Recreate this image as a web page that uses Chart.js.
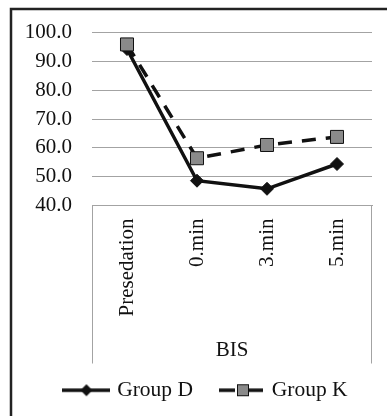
<!DOCTYPE html>
<html>
<head>
<meta charset="utf-8">
<script src="https://cdn.jsdelivr.net/npm/chart.js@4/dist/chart.umd.min.js"></script>
<style>
html,body{margin:0;padding:0;background:#fff;}
#wrap{position:relative;width:387px;height:416px;}
</style>
</head>
<body>
<div id="wrap"><canvas id="c" width="387" height="416"></canvas></div>
<script>
const categories = ['Presedation', '0.min', '3.min', '5.min'];
const groupD = [94.3, 48.6, 45.8, 54.4];
const groupK = [95.9, 56.4, 61.0, 63.8];
const seriesNames = ['Group D', 'Group K'];
const axisTitle = 'BIS';
const yMin = 40, yMax = 100, yStep = 10;

const FONT = "'Liberation Serif', 'Times New Roman', serif";
const GRID = '#a3a3a3';

function legendImage(kind) {
  const c = document.createElement('canvas');
  c.width = kind === 'D' ? 48 : 44; c.height = 16;
  const g = c.getContext('2d');
  g.strokeStyle = '#111'; g.lineWidth = 3.5;
  if (kind === 'D') {
    g.beginPath(); g.moveTo(0, 8); g.lineTo(48, 8); g.stroke();
    g.fillStyle = '#111';
    g.beginPath(); g.moveTo(24, 2); g.lineTo(30, 8); g.lineTo(24, 14); g.lineTo(18, 8); g.closePath(); g.fill();
  } else {
    g.beginPath(); g.moveTo(0, 8); g.lineTo(16, 8); g.moveTo(30, 8); g.lineTo(44, 8); g.stroke();
    g.fillStyle = '#8a8a8a'; g.fillRect(18.5, 2.5, 11, 11);
    g.lineWidth = 1; g.strokeStyle = '#111'; g.strokeRect(18.5, 2.5, 11, 11);
  }
  return c;
}
const legD = legendImage('D');
const legK = legendImage('K');

const framePlugin = {
  id: 'frame',
  afterLayout(chart) {
    // centre the legend on the full (uncropped) chart width
    if (chart.legend) { chart.legend.left += 15; chart.legend.right += 15; }
  },
  afterDraw(chart) {
    const ctx = chart.ctx;
    const a = chart.chartArea;
    const xs = chart.scales.x;
    ctx.save();
    ctx.strokeStyle = GRID; ctx.lineWidth = 1;
    ctx.beginPath();
    ctx.moveTo(a.left + 0.5, a.bottom); ctx.lineTo(a.left + 0.5, xs.bottom + 12);
    ctx.moveTo(a.right - 0.5, a.bottom); ctx.lineTo(a.right - 0.5, xs.bottom + 12);
    ctx.stroke();
    ctx.strokeStyle = '#222'; ctx.lineWidth = 2.5;
    ctx.beginPath();
    ctx.moveTo(11, chart.height); ctx.lineTo(11, 9); ctx.lineTo(chart.width, 9);
    ctx.stroke();
    ctx.restore();
  }
};

new Chart(document.getElementById('c'), {
  type: 'line',
  data: {
    labels: categories,
    datasets: [
      {
        label: seriesNames[1], data: groupK,
        borderColor: '#111', borderWidth: 3.5, borderDash: [14, 10],
        pointStyle: 'rect', pointRadius: 9.2, pointHoverRadius: 9.2,
        pointBackgroundColor: '#8a8a8a', pointBorderColor: '#111', pointBorderWidth: 1,
        tension: 0, fill: false
      },
      {
        label: seriesNames[0], data: groupD,
        borderColor: '#111', borderWidth: 3.5,
        pointStyle: 'rectRot', pointRadius: 6.5, pointHoverRadius: 6.5,
        pointBackgroundColor: '#111', pointBorderColor: '#111', pointBorderWidth: 1,
        tension: 0, fill: false
      }
    ]
  },
  options: {
    responsive: false,
    animation: false,
    events: [],
    layout: { padding: { top: 31, left: 12, right: 15, bottom: 5 } },
    scales: {
      x: {
        offset: true,
        grid: { display: false, drawTicks: false },
        border: { display: true, color: GRID, width: 1 },
        ticks: {
          minRotation: 90, maxRotation: 90, autoSkip: false, padding: 13,
          color: '#111', font: { family: FONT, size: 21 }
        },
        title: {
          display: true, text: axisTitle, color: '#111',
          font: { family: FONT, size: 21, lineHeight: 1.2 },
          padding: { top: 0, bottom: -12 }
        },
        afterFit(s) { s.height = 146; }
      },
      y: {
        min: yMin, max: yMax,
        grid: { color: GRID, lineWidth: 1, drawTicks: false },
        border: { display: false },
        ticks: {
          stepSize: yStep, padding: 20, color: '#111',
          font: { family: FONT, size: 21 },
          callback: v => Number(v).toFixed(1)
        },
        afterFit(s) { s.width = 80; }
      }
    },
    plugins: {
      tooltip: { enabled: false },
      legend: {
        position: 'bottom',
        labels: {
          usePointStyle: true, pointStyleWidth: 40, padding: 28,
          color: '#111', font: { family: FONT, size: 21.5 },
          generateLabels(chart) {
            return [
              { text: seriesNames[0], pointStyle: legD, fillStyle: '#111', strokeStyle: '#111', lineWidth: 0, datasetIndex: 1, hidden: false, fontColor: '#111' },
              { text: seriesNames[1], pointStyle: legK, fillStyle: '#8a8a8a', strokeStyle: '#111', lineWidth: 0, datasetIndex: 0, hidden: false, fontColor: '#111' }
            ];
          }
        }
      }
    }
  },
  plugins: [framePlugin]
});
</script>
</body>
</html>
